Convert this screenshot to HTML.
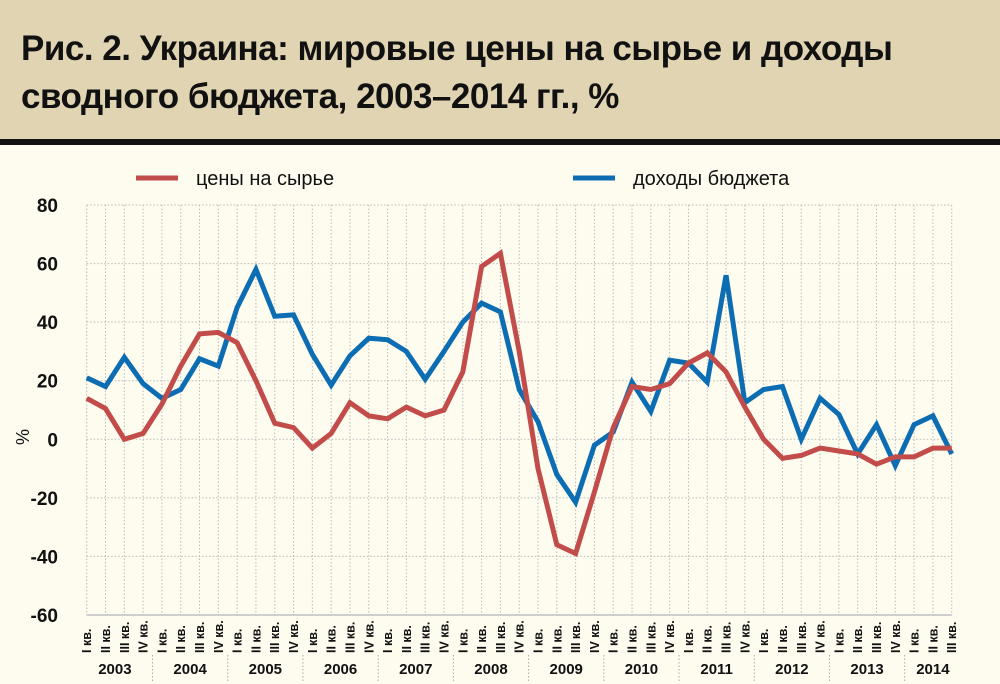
<!DOCTYPE html>
<html><head><meta charset="utf-8">
<style>
body{margin:0;background:#fefbef;width:1000px;height:684px;overflow:hidden;font-family:"Liberation Sans","DejaVu Sans",sans-serif;}
#banner{position:absolute;left:0;top:0;width:1000px;height:139px;background:#e0d4b2;border-bottom:6px solid #111;}
#banner h1{margin:0;position:absolute;left:21px;top:25px;font-size:35px;line-height:48px;font-weight:bold;color:#111;letter-spacing:-0.5px;}
svg{position:absolute;left:0;top:0;}
</style></head><body>
<div id="banner"><h1>Рис. 2. Украина: мировые цены на сырье и доходы<br>сводного бюджета, 2003–2014 гг., %</h1></div>
<svg id="chart" width="1000" height="684"></svg>
<script>
const years=["2003","2004","2005","2006","2007","2008","2009","2010","2011","2012","2013","2014"];
const quarterNames=["I кв.","II кв.","III кв.","IV кв."];
const yTicks=[80,60,40,20,0,-20,-40,-60];
const commodity=[14,10.5,0,2,12,25,36,36.5,33,20,5.5,4,-3,2,12.5,8,7,11,8,10,23,59,63.5,30,-10,-36,-39,-18,4,18,17,19,26,29.5,23,11,0,-6.5,-5.5,-3,-4,-5,-8.5,-6,-6,-3,-3];
const revenue=[21,18,28,19,14,17,27.5,25,45,58,42,42.5,29,18.5,28.5,34.5,34,30,20.5,30,40,46.5,43.5,17,6,-12,-21.5,-2,2.5,19.5,9.5,27,26,19.5,56,12.5,17,18,0,14,8.5,-5,5,-9,5,8,-5];

const NS="http://www.w3.org/2000/svg";
const svg=document.getElementById('chart');
const n=commodity.length;
const x0=86.7,x1=951.7,yTop=205,yBot=615,vMax=80,vMin=-60;
const X=i=>x0+(x1-x0)*i/(n-1);
const Y=v=>yTop+(vMax-v)*(yBot-yTop)/(vMax-vMin);
function el(t,a){const e=document.createElementNS(NS,t);for(const k in a)e.setAttribute(k,a[k]);svg.appendChild(e);return e;}

yTicks.forEach(v=>{
  const l=el('line',{x1:x0,x2:x1,y1:Y(v),y2:Y(v),stroke:v===vMin?'#cfcfcf':'#bbb','stroke-width':v===vMin?2:1,'stroke-dasharray':v===vMin?'':'1.5,2'});
  
  
  const t=el('text',{x:58,y:Y(v)+7,'text-anchor':'end','font-size':19,'font-weight':'bold',fill:'#111'});
  t.textContent=v;
  
  
});
for(let i=0;i<n;i++){
  const l=el('line',{x1:X(i),x2:X(i),y1:yTop,y2:yBot,stroke:'#bbb','stroke-width':1,'stroke-dasharray':'1.5,2'});
  
  
  const t=el('text',{x:0,y:0,transform:`translate(${X(i)+4.5},653) rotate(-90)`,'font-size':12.5,'font-weight':'bold',fill:'#111'});
  t.textContent=quarterNames[i%4];
  
  
}
years.forEach((yr,k)=>{
  const first=k*4,last=Math.min(k*4+3,n-1);
  const t=el('text',{x:(X(first)+X(last))/2,y:674,'text-anchor':'middle','font-size':15,'font-weight':'bold',fill:'#111'});
  t.textContent=yr;
  
  
  if(k>0){
    const sx=(X(first)+X(first-1))/2;
    const s=el('line',{x1:sx,x2:sx,y1:655,y2:681,stroke:'#aaa','stroke-width':1,'stroke-dasharray':'1.5,2'});
    
    
  }
});
const yt=el('text',{x:0,y:0,transform:'translate(29,437) rotate(-90)','text-anchor':'middle','font-size':18,fill:'#111'});
yt.textContent='%';


function series(data,color,name){
  const p=el('polyline',{points:data.map((v,i)=>X(i)+','+Y(v)).join(' '),fill:'none',stroke:color,'stroke-width':5,'stroke-linejoin':'miter','stroke-miterlimit':3});
  
  
}
series(revenue,'#0d6db3','revenue-line');
series(commodity,'#c24c4a','commodity-price-line');
function legend(x,color,label,name){
  const l=el('line',{x1:x,x2:x+42,y1:178,y2:178,stroke:color,'stroke-width':5});
  
  
  const t=el('text',{x:x+60,y:185,'font-size':20,fill:'#111'});
  t.textContent=label;
  
  
}
legend(136,'#c24c4a','цены на сырье','legend-commodity');
legend(573,'#0d6db3','доходы бюджета','legend-revenue');
</script>
</body></html>
